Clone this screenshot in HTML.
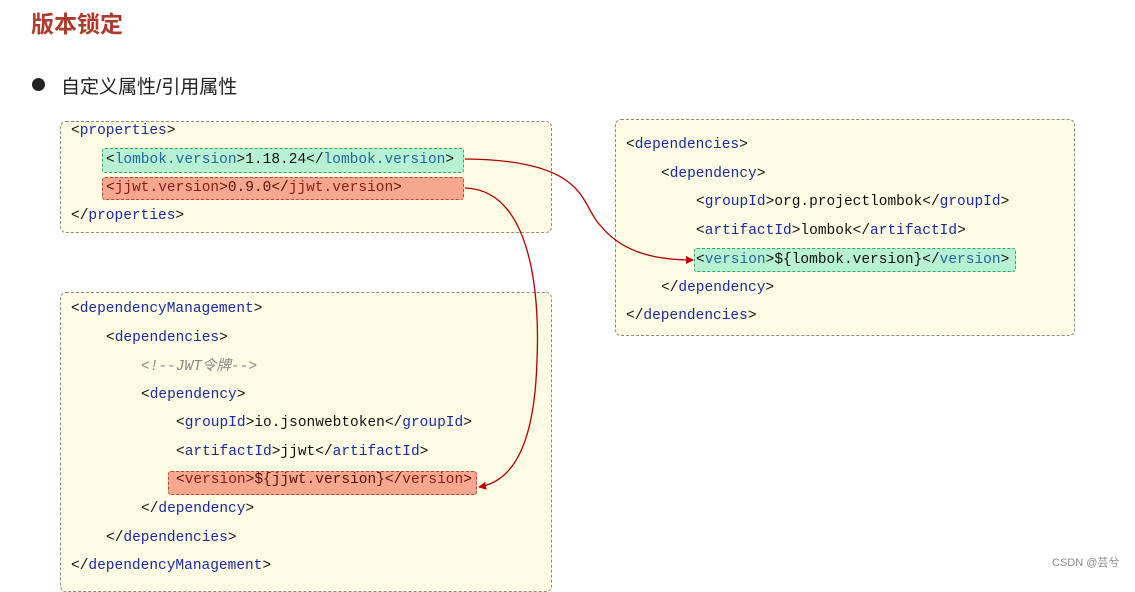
<!DOCTYPE html>
<html><head><meta charset="utf-8"><style>
*{margin:0;padding:0;box-sizing:border-box}
body{width:1135px;height:576px;background:#fff;position:relative;overflow:hidden;font-family:"Liberation Sans","Noto Sans CJK SC",sans-serif}
.box{position:absolute;background:#fdfbe3;border:1px dashed #8a8a80;border-radius:6px}
.l{position:absolute;font-family:"Liberation Mono","Noto Sans CJK SC",monospace;font-size:14.5px;line-height:18px;color:#111;white-space:pre}
.t{color:#1a2aa0}
.hg{position:absolute;background:#b8f0d4;border:1px dashed #3aa070;border-radius:3px}
.hr{position:absolute;background:#f6a88e;border:1px dashed #b04a3a;border-radius:3px}
.hg .t,.gt{color:#1c6a9c}
.rt{color:#8a1a1a}
</style></head><body>
<div style="position:absolute;left:31px;top:5px;font-size:23px;font-weight:bold;color:#b0392b">版本锁定</div>
<div style="position:absolute;left:32px;top:78px;width:13px;height:13px;border-radius:50%;background:#222"></div>
<div style="position:absolute;left:61px;top:72px;font-size:19px;color:#222">自定义属性/引用属性</div>

<div class="box" style="left:60px;top:121px;width:492px;height:112px"></div>
<div class="hg" style="left:102px;top:148px;width:362px;height:25px"></div>
<div class="hr" style="left:102px;top:177px;width:362px;height:23px"></div>
<div class="l" style="left:71px;top:122px">&lt;<span class="t">properties</span>&gt;</div>
<div class="l" style="left:106px;top:151px">&lt;<span class="gt">lombok.version</span>&gt;1.18.24&lt;/<span class="gt">lombok.version</span>&gt;</div>
<div class="l" style="left:106px;top:179px;color:#5a1010">&lt;<span class="rt">jjwt.version</span>&gt;0.9.0&lt;/<span class="rt">jjwt.version</span>&gt;</div>
<div class="l" style="left:71px;top:207px">&lt;/<span class="t">properties</span>&gt;</div>

<div class="box" style="left:615px;top:119px;width:460px;height:217px"></div>
<div class="hg" style="left:694px;top:248px;width:322px;height:24px"></div>
<div class="l" style="left:626px;top:136px">&lt;<span class="t">dependencies</span>&gt;</div>
<div class="l" style="left:661px;top:165px">&lt;<span class="t">dependency</span>&gt;</div>
<div class="l" style="left:696px;top:193px">&lt;<span class="t">groupId</span>&gt;org.projectlombok&lt;/<span class="t">groupId</span>&gt;</div>
<div class="l" style="left:696px;top:222px">&lt;<span class="t">artifactId</span>&gt;lombok&lt;/<span class="t">artifactId</span>&gt;</div>
<div class="l" style="left:696px;top:251px">&lt;<span class="gt">version</span>&gt;${lombok.version}&lt;/<span class="gt">version</span>&gt;</div>
<div class="l" style="left:661px;top:279px">&lt;/<span class="t">dependency</span>&gt;</div>
<div class="l" style="left:626px;top:307px">&lt;/<span class="t">dependencies</span>&gt;</div>

<div class="box" style="left:60px;top:292px;width:492px;height:300px"></div>
<div class="hr" style="left:168px;top:471px;width:309px;height:24px"></div>
<div class="l" style="left:71px;top:300px">&lt;<span class="t">dependencyManagement</span>&gt;</div>
<div class="l" style="left:106px;top:329px">&lt;<span class="t">dependencies</span>&gt;</div>
<div class="l" style="left:141px;top:358px;color:#888;font-style:italic">&lt;!--JWT令牌--&gt;</div>
<div class="l" style="left:141px;top:386px">&lt;<span class="t">dependency</span>&gt;</div>
<div class="l" style="left:176px;top:414px">&lt;<span class="t">groupId</span>&gt;io.jsonwebtoken&lt;/<span class="t">groupId</span>&gt;</div>
<div class="l" style="left:176px;top:443px">&lt;<span class="t">artifactId</span>&gt;jjwt&lt;/<span class="t">artifactId</span>&gt;</div>
<div class="l" style="left:176px;top:471px;color:#5a1010">&lt;<span class="rt">version</span>&gt;${jjwt.version}&lt;/<span class="rt">version</span>&gt;</div>
<div class="l" style="left:141px;top:500px">&lt;/<span class="t">dependency</span>&gt;</div>
<div class="l" style="left:106px;top:529px">&lt;/<span class="t">dependencies</span>&gt;</div>
<div class="l" style="left:71px;top:557px">&lt;/<span class="t">dependencyManagement</span>&gt;</div>

<svg style="position:absolute;left:0;top:0" width="1135" height="576">
<defs><marker id="a" markerWidth="8" markerHeight="8" refX="7" refY="4" orient="auto" markerUnits="userSpaceOnUse"><path d="M0,0 L8,4 L0,8 z" fill="#c00000"/></marker></defs>
<path d="M465,159 C590,160 580,205 600,225 C620,250 650,260 693,260" fill="none" stroke="#b00000" stroke-width="1.3" marker-end="url(#a)"/>
<path d="M465,188 C530,190 540,290 537,360 C535,430 520,480 479,487" fill="none" stroke="#b00000" stroke-width="1.3" marker-end="url(#a)"/>
</svg>
<div style="position:absolute;left:1052px;top:554px;font-size:11px;color:#888">CSDN @芸兮</div>
</body></html>
